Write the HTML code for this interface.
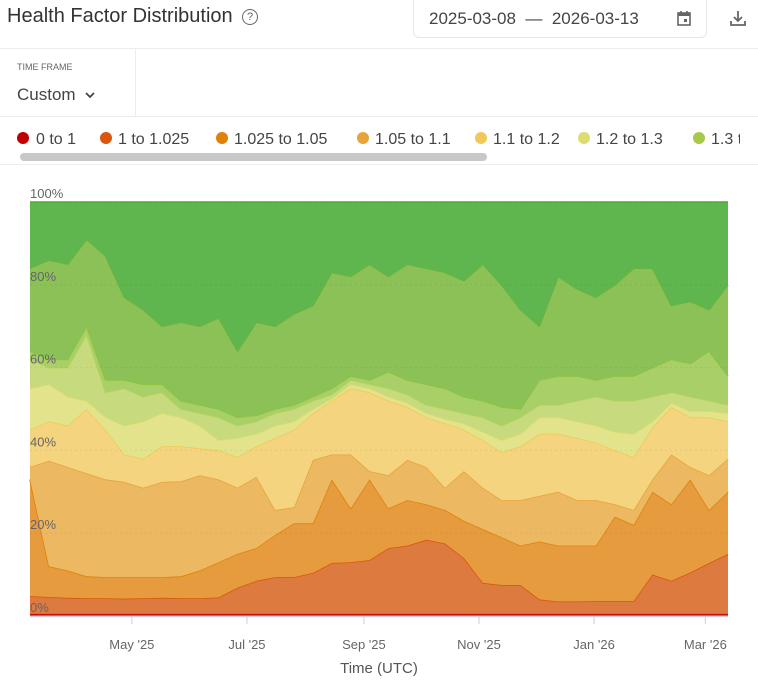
<!DOCTYPE html>
<html><head><meta charset="utf-8"><style>
body{margin:0;width:758px;height:683px;overflow:hidden;background:#fff;font-family:"Liberation Sans",sans-serif;color:#333}
.abs{position:absolute}
</style></head><body>
<div class="abs" style="left:7px;top:5px;font-size:20px;color:#333;">Health Factor Distribution</div>
<div class="abs" style="left:242px;top:9px;width:14px;height:14px;border:1.5px solid #666;border-radius:50%;font-size:11px;line-height:14px;text-align:center;color:#666;">?</div>
<div class="abs" style="left:413px;top:-6px;width:292px;height:42px;border:1px solid #e6e6e6;border-radius:6px;">
  <span class="abs" style="left:15px;top:14px;font-size:17px;color:#444;white-space:nowrap;">2025-03-08 &nbsp;—&nbsp; 2026-03-13</span>
  <svg class="abs" style="left:262px;top:15px" width="16" height="17" viewBox="0 0 16 17"><rect x="2" y="3" width="12" height="12" fill="none" stroke="#666" stroke-width="1.6"/><rect x="2" y="3" width="12" height="3" fill="#666"/><line x1="5" y1="1" x2="5" y2="4" stroke="#666" stroke-width="1.6"/><line x1="11" y1="1" x2="11" y2="4" stroke="#666" stroke-width="1.6"/><rect x="8" y="9" width="3" height="3" fill="#666"/></svg>
</div>
<svg class="abs" style="left:729px;top:9px" width="18" height="18" viewBox="0 0 18 18"><path d="M9 2v10M5 8l4 4 4-4M2 12v4h14v-4" fill="none" stroke="#666" stroke-width="1.8"/></svg>
<div class="abs" style="left:0;top:48px;width:758px;height:1px;background:#ececec"></div>
<div class="abs" style="left:135px;top:48px;width:1px;height:68px;background:#ececec"></div>
<div class="abs" style="left:0;top:116px;width:758px;height:1px;background:#ececec"></div>
<div class="abs" style="left:17px;top:62px;font-size:9px;color:#666;">TIME FRAME</div>
<div class="abs" style="left:17px;top:85px;font-size:17px;color:#444;">Custom <svg width="12" height="10" viewBox="0 0 12 10" style="margin-left:4px"><path d="M2 3l4 4 4-4" fill="none" stroke="#444" stroke-width="1.8"/></svg></div>
<div class="abs" style="left:0;top:128px;width:740px;height:24px;overflow:hidden;white-space:nowrap;font-size:16px;color:#444;">
  <span class="abs" style="left:17px;top:3px"><span style="display:inline-block;width:12px;height:12px;border-radius:50%;background:#c00000;margin-right:7px"></span>0 to 1</span>
  <span class="abs" style="left:100px;top:3px"><span style="display:inline-block;width:12px;height:12px;border-radius:50%;background:#d9560f;margin-right:6px"></span>1 to 1.025</span>
  <span class="abs" style="left:216px;top:3px"><span style="display:inline-block;width:12px;height:12px;border-radius:50%;background:#e0820a;margin-right:6px"></span>1.025 to 1.05</span>
  <span class="abs" style="left:357px;top:3px"><span style="display:inline-block;width:12px;height:12px;border-radius:50%;background:#e8a33a;margin-right:6px"></span>1.05 to 1.1</span>
  <span class="abs" style="left:475px;top:3px"><span style="display:inline-block;width:12px;height:12px;border-radius:50%;background:#f0c95a;margin-right:6px"></span>1.1 to 1.2</span>
  <span class="abs" style="left:578px;top:3px"><span style="display:inline-block;width:12px;height:12px;border-radius:50%;background:#dcdc70;margin-right:6px"></span>1.2 to 1.3</span>
  <span class="abs" style="left:693px;top:3px"><span style="display:inline-block;width:12px;height:12px;border-radius:50%;background:#a8c84a;margin-right:6px"></span>1.3 to 1.5</span>
</div>
<div class="abs" style="left:20px;top:153px;width:467px;height:8px;border-radius:4px;background:#c8c8c8"></div>
<div class="abs" style="left:0;top:164px;width:758px;height:1px;background:#ececec"></div>
<svg class="abs" id="chart" style="left:0;top:0" width="758" height="683"></svg>
<script>
const startDate = "2025-03-08";
const stepDays = 10;
const seriesNames = ["0 to 1","1 to 1.025","1.025 to 1.05","1.05 to 1.1","1.1 to 1.2","1.2 to 1.3","1.3 to 1.5","1.5 to 2","2 to 5","5+"];
const s0 = [0.5,0.5,0.5,0.5,0.5,0.5,0.5,0.5,0.5,0.5,0.5,0.5,0.5,0.5,0.5,0.5,0.5,0.5,0.5,0.5,0.5,0.5,0.5,0.5,0.5,0.5,0.5,0.5,0.5,0.5,0.5,0.5,0.5,0.5,0.5,0.5,0.5,0.5];
const s1 = [4.3,4.1,3.9,3.8,3.8,3.7,3.8,3.9,3.8,3.8,4.0,6.3,8.0,8.9,8.9,9.9,12.3,12.5,13.0,15.9,16.5,17.9,17.0,13.5,7.5,7.0,7.0,3.5,3.0,3.0,3.1,3.1,3.1,9.5,8.0,10.0,12.3,14.5];
const s2 = [28.2,7.4,6.6,5.3,5.1,5.2,5.1,5.0,5.3,6.7,8.5,8.2,7.9,10.2,13.0,12.0,20.2,13.0,19.5,9.6,11.0,8.6,8.1,9.0,13.0,11.5,9.5,14.0,13.5,13.5,13.4,20.4,18.4,20.0,18.5,22.5,12.8,15.0];
const s3 = [3,25.5,25,24.9,23.6,23,21.6,23,22.9,23,20,16,17.2,6,3.9,15.3,6,13,2,8,9.7,9,5.4,12,10,9,11,11,13,11,11,3,3.6,3,12,3,8.4,8];
const s4 = [9,9.5,10,15.5,12,6.6,7,8.6,8.5,6.5,7,7.4,7.4,17.4,18.7,11.3,13,16,19,18,12.8,12,15.6,10,11.5,11.5,13,15,14,15,13.8,13,12.8,12.6,11.5,12,14,9];
const s5 = [10,9,7,2,3,7,9,8,7,5.5,2.5,4.6,3,3,2,1,0.5,1,1,1,1,1,1,1.5,2,3,3,4,4,4,4.2,4.5,5.6,1.4,1,1.5,1.5,2];
const s6 = [7,4,7,16,6,9,6,5,2,3,5.5,3,3,3,3,2,1,1,1,2,2,2,2.4,2.5,3.5,3.5,4,3,3,5,7,7.5,8,6,2.5,3.5,2.5,2];
const s7 = [2,2,2,2,3,2,3,2,2,2,2,2,1.5,1,1,1,1.5,1,1,4,3.5,5,5,4,4,4.5,2,6,7,6,4,6,6,7,8,8,12,7];
const s8 = [20,24,23,21,30,20,18,14,19,19,22,16,22.5,20,22,22,28,24,28,23,28,28,28,28,33,29.5,24,13,24,21,20,22,26,24,13,15,10,22];
const s9 = [16,14,15,9,13,23,26,30,29,30,28,36,29,30,27,25,17,18,15,18,15,16,17,19,15,20,26,30,18,21,23,20,16,16,25,24,26,20];
const yTicks = [0,20,40,60,80,100];
const xTickDates = ["2025-05-01","2025-07-01","2025-09-01","2025-11-01","2026-01-01","2026-03-01"];
const xTickLabels = ["May '25","Jul '25","Sep '25","Nov '25","Jan '26","Mar '26"];

const series = [s0,s1,s2,s3,s4,s5,s6,s7,s8,s9];
const fills = ["#d0452a","#dd7a40","#e59b3e","#ecb862","#f4d47f","#e2e38b","#c7da7e","#a9cf68","#8bc157","#5fb54e"];
const strokes = ["#c00000","#d9560f","#e0820a","#e8a33a","#f0c95a","#dcdc70","#b6d45c","#8cc43c","#6db33a","#4caf30"];
const svg = document.getElementById('chart');
const NS = "http://www.w3.org/2000/svg";
const X0=30,X1=728,Y0=616,Y1=202;
const t0 = Date.parse(startDate+"T00:00:00Z");
const n = s0.length;
const tEnd = t0 + (n-1)*stepDays*864e5;
function xScale(t){return X0+(t-t0)/(tEnd-t0)*(X1-X0);}
function yScale(v){return Y0-v/100*(Y0-Y1);}
function mk(tag,attrs){const e=document.createElementNS(NS,tag);for(const k in attrs)e.setAttribute(k,attrs[k]);svg.appendChild(e);return e;}

const times = s0.map((_,i)=>t0+i*stepDays*864e5);
let cum = s0.map(()=>0);
series.forEach((s,k)=>{
  const lower = cum.slice();
  const upper = cum.map((c,i)=>c+s[i]);
  cum = upper;
  let top = upper.map((v,i)=>xScale(times[i]).toFixed(1)+","+yScale(v).toFixed(1));
  let bot = lower.map((v,i)=>xScale(times[i]).toFixed(1)+","+yScale(v).toFixed(1)).reverse();
  const a = mk('polygon',{points:top.concat(bot).join(' '),fill:fills[k]});
  
  
  const l = mk('polyline',{points:top.join(' '),fill:'none',stroke:strokes[k],'stroke-width':1.6,'stroke-linejoin':'round'});
  
  
});
yTicks.forEach(v=>{
  const g = mk('line',{x1:X0,x2:X1,y1:yScale(v),y2:yScale(v),stroke:'rgba(0,0,0,0.06)','stroke-dasharray':'2,3'});
  
  
  const t = mk('text',{x:X0,y:yScale(v)-4,'font-size':13,fill:'#666','font-family':'Liberation Sans, sans-serif'});
  t.textContent = v+'%';
  
  
});
const ax = mk('line',{x1:X0,x2:X1,y1:Y0+0.5,y2:Y0+0.5,stroke:'#ccd',"stroke-width":1.5});


xTickDates.forEach((d,i)=>{
  const x = xScale(Date.parse(d+"T00:00:00Z"));
  const tk = mk('line',{x1:x,x2:x,y1:Y0,y2:Y0+8,stroke:'#ccd'});
  
  
  const t = mk('text',{x:x,y:649,'font-size':13,fill:'#666','text-anchor':'middle','font-family':'Liberation Sans, sans-serif'});
  t.textContent = xTickLabels[i];
  
  
});
const xt = mk('text',{x:379,y:673,'font-size':15,fill:'#555','text-anchor':'middle','font-family':'Liberation Sans, sans-serif'});
xt.textContent = 'Time (UTC)';


</script>
</body></html>
